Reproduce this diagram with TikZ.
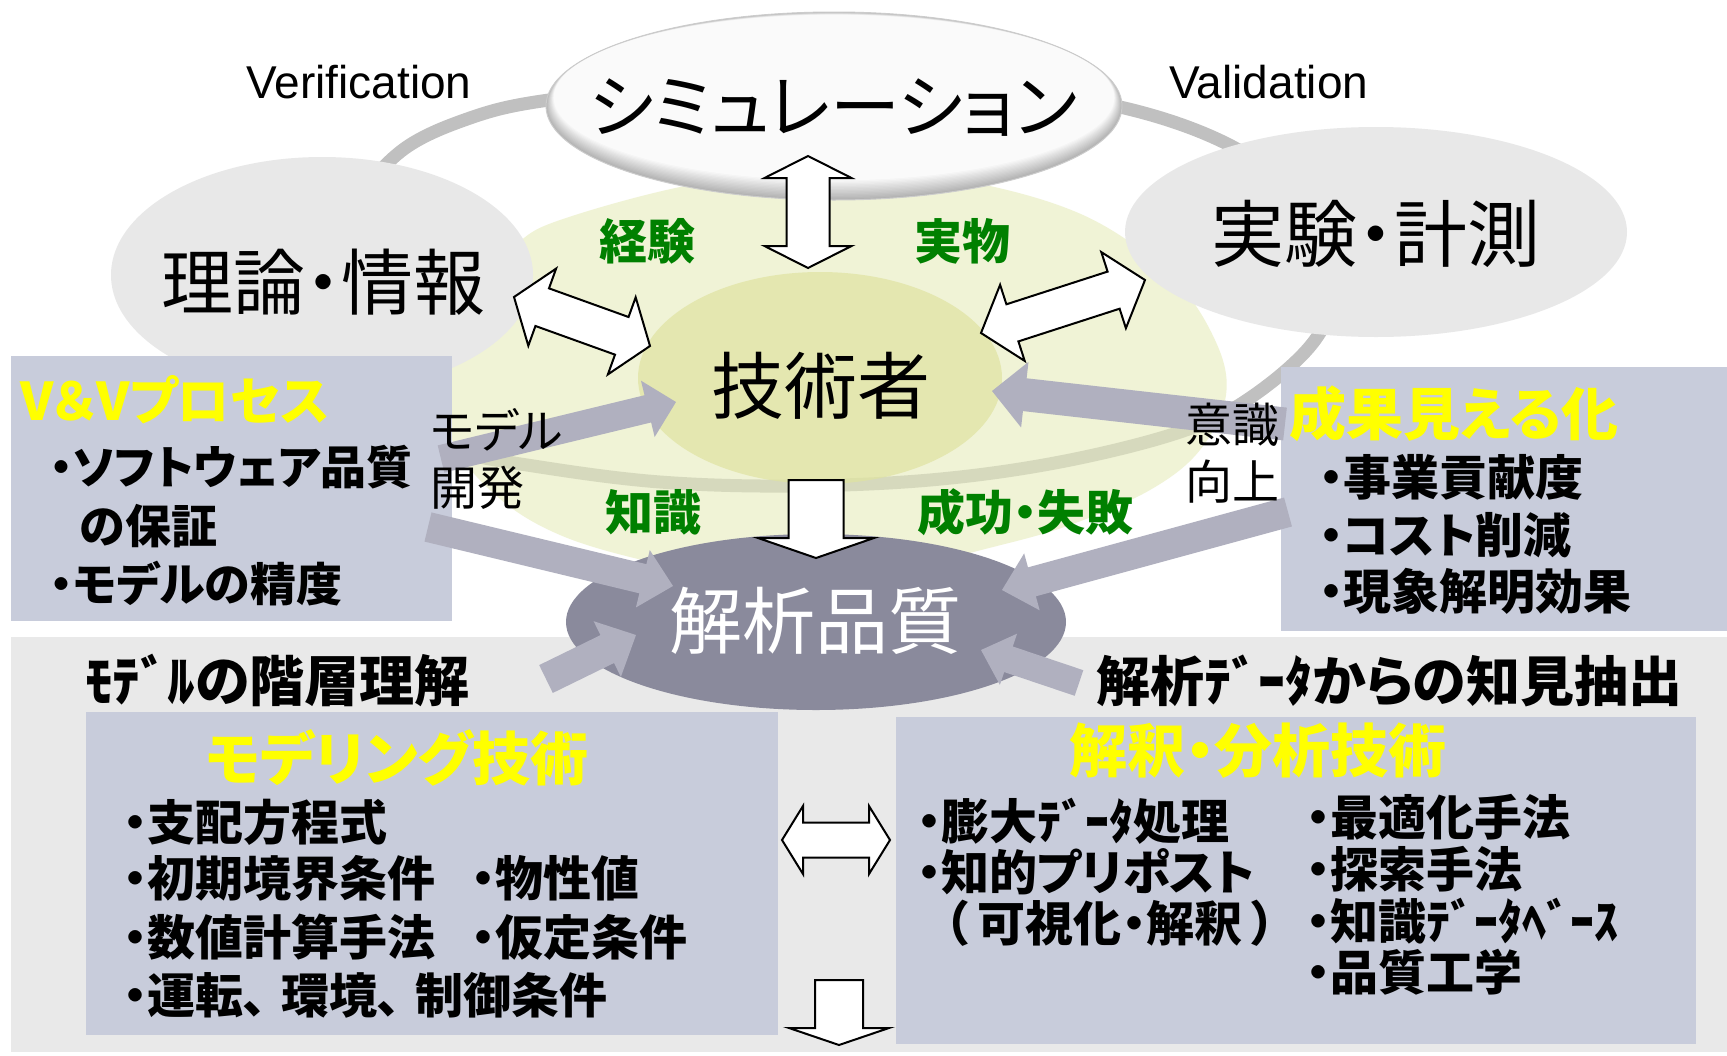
\documentclass[tikz,border=0pt]{standalone}
\usepackage{fontspec}
\setmainfont{Liberation Sans}
\newfontfamily\jp[RawFeature=+palt]{Noto Sans CJK JP}
\usetikzlibrary{calc,shapes.geometric}
\definecolor{ringgray}{HTML}{C0C0C0}
\definecolor{palefill}{HTML}{E6EBBB}
\definecolor{innerfill}{HTML}{DFE3A0}
\definecolor{ellgray}{HTML}{E8E8E8}
\definecolor{boxblue}{HTML}{C8CCDB}
\definecolor{panelgray}{HTML}{E9E9E9}
\definecolor{qualfill}{HTML}{8A8A9C}
\definecolor{arrowgray}{HTML}{B0B0BF}
\definecolor{labelgreen}{HTML}{008000}
\definecolor{titleyellow}{HTML}{FFFF00}
\newcommand\fsz[1]{\fontsize{#1}{#1}\selectfont}
% double block arrow: style, end A, end B, shaft half width, head half width, head length
\newcommand\dblblock[6]{%
  \path[#1] (#2) -- ($(#2)!#6pt!(#3)!#5pt!90:(#3)$) -- ($(#2)!#6pt!(#3)!#4pt!90:(#3)$)
    -- ($(#3)!#6pt!(#2)!#4pt!-90:(#2)$) -- ($(#3)!#6pt!(#2)!#5pt!-90:(#2)$) -- (#3)
    -- ($(#3)!#6pt!(#2)!#5pt!90:(#2)$) -- ($(#3)!#6pt!(#2)!#4pt!90:(#2)$)
    -- ($(#2)!#6pt!(#3)!#4pt!-90:(#3)$) -- ($(#2)!#6pt!(#3)!#5pt!-90:(#3)$) -- cycle;}
% single block arrow: style, tail, tip, shaft half width, head half width, head length
\newcommand\sglblock[6]{%
  \path[#1] ($(#2)!#4pt!90:(#3)$) -- ($(#3)!#6pt!(#2)!#4pt!-90:(#2)$) -- ($(#3)!#6pt!(#2)!#5pt!-90:(#2)$)
    -- (#3) -- ($(#3)!#6pt!(#2)!#5pt!90:(#2)$) -- ($(#3)!#6pt!(#2)!#4pt!90:(#2)$)
    -- ($(#2)!#4pt!-90:(#3)$) -- cycle;}
\begin{document}
\begin{tikzpicture}[x=1pt,y=-1pt,
  txt/.style={inner sep=0pt, outer sep=0pt},
  jpreg/.style={txt, font=\jp\fsz{#1}},
  jpbold/.style={txt, font=\jp\bfseries\fsz{#1}},
  itemtxt/.style={txt, anchor=west, font=\jp\bfseries\fsz{48}},
  vvitem/.style={txt, anchor=west, font=\jp\bfseries\fsz{46}},
  greenlbl/.style={txt, font=\jp\bfseries\fsz{48}, text=labelgreen},
  yellowttl/.style={txt, font=\jp\bfseries\fsz{#1}, text=titleyellow},
  sidetxt/.style={txt, anchor=west, font=\jp\fsz{47}},
  whitearrow/.style={fill=white, draw=black, line width=2pt, line join=miter},
  grayarrow/.style={fill=arrowgray},
  bluebox/.style={rectangle, fill=boxblue, anchor=north west, inner sep=0pt},
  ring/.style={draw=ringgray, line width=13pt}]
\useasboundingbox (0,0) rectangle (1727,1055);
\fill[white] (0,0) rectangle (1727,1055);

% ring
\draw[ring] plot[smooth cycle, tension=0.6] coordinates {(835,84) (980,90) (1120,107) (1235,148) (1310,210) (1335,280) (1315,340) (1250,398) (1180,432) (1060,462) (930,480) (790,486) (660,482) (540,467) (453,450) (400,420) (360,370) (340,290) (355,210) (400,152) (470,118) (549,100) (690,87)};

% pale region and engineer circle
\fill[palefill, fill opacity=0.6] plot[smooth cycle, tension=0.6] coordinates {(825,168) (960,180) (1083,215) (1170,275) (1215,340) (1226,395) (1200,450) (1150,490) (1070,525) (993,547) (900,568) (800,575) (700,570) (630,557) (560,535) (505,503) (460,455) (442,400) (450,340) (485,285) (519,242) (566,218) (690,185)};
\node[ellipse, fill=innerfill, fill opacity=0.7, minimum width=364, minimum height=212, inner sep=0pt] (eng) at (820,378) {};

% theory and experiment ellipses
\node[ellipse, fill=ellgray, minimum width=422, minimum height=236, inner sep=0pt] (theo) at (322,275) {};
\node[ellipse, fill=ellgray, minimum width=502, minimum height=210, inner sep=0pt] (expe) at (1376,232) {};

% simulation ellipse with rim
\foreach \i in {0,...,14}{
  \pgfmathsetmacro{\g}{max(0,60-4*\i)}
  \fill[gray!\g!white] (834,{106-0.6*\i}) ellipse [x radius={288-0.55*\i}, y radius={94-0.8*\i}];
}
\draw[gray!40, line width=1pt] (834,106) ellipse [x radius=288, y radius=94];
\coordinate (sim) at (834,106);

% bottom panel and boxes
\fill[panelgray] (11,637) rectangle (1727,1052);
\node[bluebox, minimum width=441, minimum height=265] (vv) at (11,356) {};
\node[bluebox, minimum width=446, minimum height=264] (seika) at (1281,367) {};
\node[bluebox, minimum width=692, minimum height=323] (model) at (86,712) {};
\node[bluebox, minimum width=800, minimum height=327] (anal) at (896,717) {};

% quality ellipse
\node[ellipse, fill=qualfill, minimum width=500, minimum height=176, inner sep=0pt] (qual) at (816,622) {};

% gray arrows
\coordinate (g1t) at (441,459); \coordinate (g1h) at (676,402);
\coordinate (g2t) at (428,527); \coordinate (g2h) at (673,586);
\coordinate (g3t) at (1285,424); \coordinate (g3h) at (992,391);
\coordinate (g4t) at (1288,512); \coordinate (g4h) at (1002,590);
\coordinate (g5t) at (546,679); \coordinate (g5h) at (636,635);
\coordinate (g6t) at (1079,683); \coordinate (g6h) at (981,650);
\sglblock{grayarrow}{g1t}{g1h}{14}{29}{29}
\sglblock{grayarrow}{g2t}{g2h}{15}{29.5}{31}
\sglblock{grayarrow}{g3t}{g3h}{16.5}{33}{33}
\sglblock{grayarrow}{g4t}{g4h}{15}{29.5}{31}
\sglblock{grayarrow}{g5t}{g5h}{15.5}{31}{32}
\sglblock{grayarrow}{g6t}{g6h}{13.5}{27}{29}

% white arrows
\coordinate (w1a) at (808,156); \coordinate (w1b) at (808,268);
\coordinate (w2a) at (514,297); \coordinate (w2b) at (650,346);
\coordinate (w3a) at (981,333); \coordinate (w3b) at (1145,280);
\coordinate (w4t) at (816,480); \coordinate (w4h) at (816,558);
\coordinate (w5a) at (782,840); \coordinate (w5b) at (890,840);
\coordinate (w6t) at (839,980); \coordinate (w6h) at (839,1045);
\dblblock{whitearrow}{w1a}{w1b}{21.5}{43.5}{22}
\dblblock{whitearrow}{w2a}{w2b}{20}{41}{30}
\dblblock{whitearrow}{w3a}{w3b}{19.5}{40}{33}
\sglblock{whitearrow}{w4t}{w4h}{27.5}{58}{20}
\dblblock{whitearrow}{w5a}{w5b}{17.5}{34}{21}
\sglblock{whitearrow}{w6t}{w6h}{24}{50}{17}

% texts
\node[txt, anchor=base, font=\fsz{46}] (verif) at (359,98) {Verification};
\node[txt, anchor=base, font=\fsz{46}] (valid) at (1269,98) {Validation};
\node[jpreg=70] (simtxt) at (833,108) {シミュレーション};
\node[jpreg=72] (theotxt) at (323,282) {理論・情報};
\node[jpreg=73] (expetxt) at (1376,234) {実験・計測};
\node[jpreg=73] (engtxt) at (821,386) {技術者};
\node[jpreg=73, text=white] (qualtxt) at (815,621) {解析品質};

\node[greenlbl] (keiken) at (647,241) {経験};
\node[greenlbl] (jitsubutsu) at (962,241) {実物};
\node[greenlbl] (chishiki) at (653,512) {知識};
\node[greenlbl] (seiko) at (1025,512) {成功・失敗};

\node[sidetxt] (md1) at (430,430) {モデル};
\node[sidetxt] (md2) at (430,488) {開発};
\node[sidetxt] (ik1) at (1185,425) {意識};
\node[sidetxt] (ik2) at (1185,482) {向上};

\node[yellowttl=52, anchor=west] (vvttl) at (20,400) {V＆Vプロセス};
\node[vvitem] (vv1) at (50,467) {・ソフトウェア品質};
\node[vvitem] (vv2) at (80,526) {の保証};
\node[vvitem] (vv3) at (50,584) {・モデルの精度};

\node[yellowttl=57, anchor=west] (seikattl) at (1289,414) {成果見える化};
\node[itemtxt] (sk1) at (1319,477) {・事業貢献度};
\node[itemtxt] (sk2) at (1319,535) {・コスト削減};
\node[itemtxt] (sk3) at (1319,591) {・現象解明効果};

\node[jpbold=55, anchor=west] (kaiso) at (85,680) {ﾓﾃﾞﾙの階層理解};
\node[jpbold=54, anchor=west] (chiken) at (1096,681) {解析ﾃﾞｰﾀからの知見抽出};

\node[yellowttl=58] (modelttl) at (397,758) {モデリング技術};
\node[itemtxt] (m1) at (123,822) {・支配方程式};
\node[itemtxt] (m2) at (123,878) {・初期境界条件};
\node[itemtxt] (m3) at (471,878) {・物性値};
\node[itemtxt] (m4) at (123,937) {・数値計算手法};
\node[itemtxt] (m5) at (471,937) {・仮定条件};
\node[itemtxt] (m6) at (123,995) {・運転、\hspace{14pt}環境、\hspace{14pt}制御条件};

\node[yellowttl=58] (analttl) at (1258,751) {解釈・分析技術};
\node[itemtxt] (a1) at (917,821) {・膨大ﾃﾞｰﾀ処理};
\node[itemtxt] (a2) at (917,872) {・知的プリポスト};
\node[itemtxt] (a3) at (944,923) {（\hspace{10pt}可視化・解釈\hspace{10pt}）};
\node[itemtxt] (a4) at (1306,817) {・最適化手法};
\node[itemtxt] (a5) at (1306,869) {・探索手法};
\node[itemtxt] (a6) at (1306,921) {・知識ﾃﾞｰﾀﾍﾞｰｽ};
\node[itemtxt] (a7) at (1306,972) {・品質工学};
\end{tikzpicture}
\end{document}
